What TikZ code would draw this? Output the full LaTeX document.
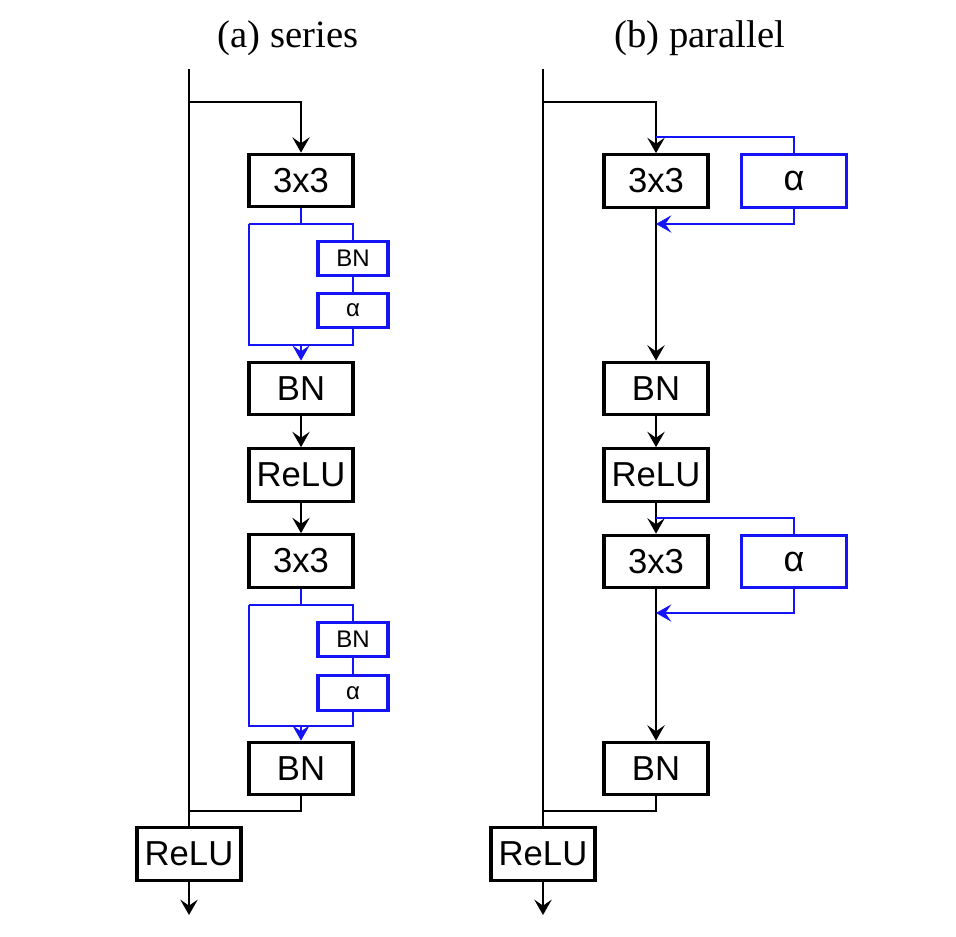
\documentclass[tikz,border=0pt]{standalone}
\usepackage{fontspec}
\setmainfont{Liberation Serif}
\newfontfamily\boxfont{Liberation Sans}
\usetikzlibrary{arrows.meta}
\definecolor{bblue}{RGB}{20,20,245}
\tikzset{
  box/.style={draw=black, line width=2.3pt, minimum width=78pt, minimum height=39.5pt, inner sep=0pt, font=\boxfont\fontsize{26}{30}\selectfont},
  abox/.style={draw=bblue, line width=2.3pt, minimum width=78.5pt, minimum height=39.5pt, inner sep=0pt, font=\boxfont\fontsize{27}{30}\selectfont},
  sbox/.style={draw=bblue, line width=2.3pt, minimum width=52.5pt, minimum height=26pt, inner sep=0pt, font=\boxfont\fontsize{18}{21}\selectfont},
  wire/.style={draw=black, line width=1.5pt},
  bwire/.style={draw=bblue, line width=1.2pt},
  arr/.style={-{Stealth[length=11.5pt,width=13pt,inset=4.5pt]}},
  title/.style={font=\fontsize{29}{34}\selectfont},
}
\begin{document}
\begin{tikzpicture}[x=0.75pt,y=-0.75pt]
\useasboundingbox (0,0) rectangle (956,936);
% titles
\node[title] (ta) at (288,38) {(a) series};
\node[title] (tb) at (700,38) {(b) parallel};

% ===== (a) series =====
\coordinate (atop) at (189,69);
\coordinate (asplit) at (189,102);
\coordinate (aend) at (189,915);
\node[box] (a1) at (301,180.5) {3x3};
\node[sbox] (abn1) at (353,258.5) {BN};
\node[sbox] (aal1) at (353,310.5) {α};
\node[box] (a2) at (301,388.5) {BN};
\node[box] (a3) at (301,475) {ReLU};
\node[box] (a4) at (301,561) {3x3};
\node[sbox] (abn2) at (353,639.5) {BN};
\node[sbox] (aal2) at (353,693) {α};
\node[box] (a5) at (301,768.5) {BN};
\node[box] (a6) at (189,854) {ReLU};

\draw[wire] (atop) -- (a6.north);
\draw[wire,arr] (a6.south) -- (aend);
\draw[wire,arr] (asplit) -| (a1.north);
\draw[wire,arr] (a2.south) -- (a3.north);
\draw[wire,arr] (a3.south) -- (a4.north);
\draw[wire] (a5.south) |- (189,811);

% blue series block 1
\coordinate (ab1t) at (301,224);
\coordinate (ab1b) at (301,345);
\draw[bwire] (a1.south) -- (ab1t);
\draw[bwire] (249,224) -- (353,224) -- (abn1.north);
\draw[bwire] (abn1.south) -- (aal1.north);
\draw[bwire] (aal1.south) -- (353,345) -- (249,345) -- (249,224);
\draw[bwire,arr] (ab1b) -- (a2.north);
% blue series block 2
\coordinate (ab2t) at (301,605);
\coordinate (ab2b) at (301,726);
\draw[bwire] (a4.south) -- (ab2t);
\draw[bwire] (249,605) -- (353,605) -- (abn2.north);
\draw[bwire] (abn2.south) -- (aal2.north);
\draw[bwire] (aal2.south) -- (353,726) -- (249,726) -- (249,605);
\draw[bwire,arr] (ab2b) -- (a5.north);

% ===== (b) parallel =====
\coordinate (btop) at (543,69);
\coordinate (bsplit) at (543,102);
\coordinate (bend) at (543,915);
\node[box] (b1) at (656,181) {3x3};
\node[abox] (bal1) at (794,181) {α};
\node[box] (b2) at (656,388.5) {BN};
\node[box] (b3) at (656,475) {ReLU};
\node[box] (b4) at (656,561.5) {3x3};
\node[abox] (bal2) at (794,561.5) {α};
\node[box] (b5) at (656,768.5) {BN};
\node[box] (b6) at (543,854) {ReLU};

\draw[wire] (btop) -- (b6.north);
\draw[wire,arr] (b6.south) -- (bend);
\draw[wire,arr] (bsplit) -| (b1.north);
\draw[wire,arr] (b1.south) -- (b2.north);
\draw[wire,arr] (b2.south) -- (b3.north);
\draw[wire,arr] (b3.south) -- (b4.north);
\draw[wire,arr] (b4.south) -- (b5.north);
\draw[wire] (b5.south) |- (543,811);

\coordinate (bb1t) at (656,137);
\coordinate (bb1b) at (656,224);
\draw[bwire] (bb1t) -| (bal1.north);
\draw[bwire,arr] (bal1.south) |- (bb1b);
\coordinate (bb2t) at (656,518);
\coordinate (bb2b) at (656,613);
\draw[bwire] (bb2t) -| (bal2.north);
\draw[bwire,arr] (bal2.south) |- (bb2b);
\end{tikzpicture}
\end{document}
